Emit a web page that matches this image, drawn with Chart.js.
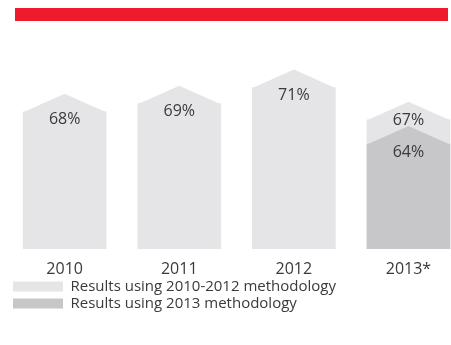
<!DOCTYPE html>
<html>
<head>
<meta charset="utf-8">
<script src="https://cdn.jsdelivr.net/npm/chart.js@4.4.1/dist/chart.umd.min.js"></script>
<style>
  html, body { margin: 0; padding: 0; background: #fff; overflow: hidden; }
  #wrap { position: relative; width: 451px; height: 345px; }
  #redbar { position: absolute; left: 15px; top: 8px; width: 433px; height: 13px; background: #ee1c2a; }
  canvas { position: absolute; left: 0; top: 0; }
</style>
</head>
<body>
<div id="wrap">
  <canvas id="chart" width="451" height="345"></canvas>
  <div id="redbar"></div>
</div>
<script>
// 데이터
const years = ["2010", "2011", "2012", "2013*"];
const oldMethod = [68, 69, 71, 67]; // 2010-2012 방식
const newMethod = [null, null, null, 64]; // 2013 방식
const seriesNames = ["Results using 2010-2012 methodology", "Results using 2013 methodology"];

const lightGray = "#e5e5e7";
const darkGray = "#c7c7c9";
const textColor = "#3a3a3a";
const peakHeight = 18; // 지붕 모양 높이(px)
const labelDy = [[8, 8, 8, 1], [8, 8, 8, 8]]; // 값 라벨 위치

const toPoints = (arr) =>
  arr.map((v, i) => (v === null ? null : { x: i, y: v })).filter((p) => p);

// 막대 위 삼각형 지붕
const roofPlugin = {
  id: "roof",
  afterDatasetDraw(chart, args) {
    const ctx = chart.ctx;
    const ds = chart.data.datasets[args.index];
    ctx.save();
    ctx.fillStyle = ds.backgroundColor;
    args.meta.data.forEach((bar) => {
      const half = bar.width / 2;
      ctx.beginPath();
      ctx.moveTo(bar.x - half, bar.y + 0.5);
      ctx.lineTo(bar.x, bar.y - peakHeight);
      ctx.lineTo(bar.x + half, bar.y + 0.5);
      ctx.closePath();
      ctx.fill();
    });
    ctx.restore();
  },
};

// 값 라벨
const valueLabels = {
  id: "valueLabels",
  afterDatasetsDraw(chart) {
    const ctx = chart.ctx;
    ctx.save();
    ctx.font = "16px 'Open Sans'";
    ctx.fillStyle = textColor;
    ctx.textAlign = "center";
    ctx.textBaseline = "middle";
    chart.data.datasets.forEach((ds, di) => {
      const meta = chart.getDatasetMeta(di);
      meta.data.forEach((bar, j) => {
        const p = ds.data[j];
        ctx.fillText(p.y + "%", bar.x, bar.y + labelDy[di][p.x]);
      });
    });
    ctx.restore();
  },
};

new Chart(document.getElementById("chart").getContext("2d"), {
  type: "bar",
  data: {
    datasets: [
      {
        label: seriesNames[0],
        data: toPoints(oldMethod),
        backgroundColor: lightGray,
        borderWidth: 0,
        order: 1,
      },
      {
        label: seriesNames[1],
        data: toPoints(newMethod),
        backgroundColor: darkGray,
        borderWidth: 0,
        order: 0,
      },
    ],
  },
  options: {
    responsive: false,
    animation: false,
    events: [],
    layout: { padding: { left: 11, right: 0, top: 31, bottom: 24 } },
    datasets: { bar: { grouped: false, barThickness: 83 } },
    scales: {
      x: {
        type: "linear",
        offset: false,
        min: -0.468,
        max: 3.371,
        grid: { display: false, drawTicks: false },
        border: { display: false },
        afterFit: (scale) => {
          scale.height = 28;
        },
        ticks: {
          stepSize: 1,
          includeBounds: false,
          autoSkip: false,
          maxRotation: 0,
          padding: 11,
          color: textColor,
          font: { family: "'Open Sans'", size: 16 },
          callback: (v) => (Number.isInteger(v) && years[v] ? years[v] : ""),
        },
      },
      y: {
        display: false,
        min: 51,
        max: 78,
      },
    },
    plugins: {
      tooltip: { enabled: false },
      legend: {
        position: "bottom",
        align: "start",
        labels: {
          boxWidth: 50,
          boxHeight: 10,
          padding: 2,
          color: textColor,
          font: { family: "'Open Sans'", size: 15 },
          sort: (a, b) => a.datasetIndex - b.datasetIndex,
        },
      },
    },
  },
  plugins: [roofPlugin, valueLabels],
});
</script>
</body>
</html>
